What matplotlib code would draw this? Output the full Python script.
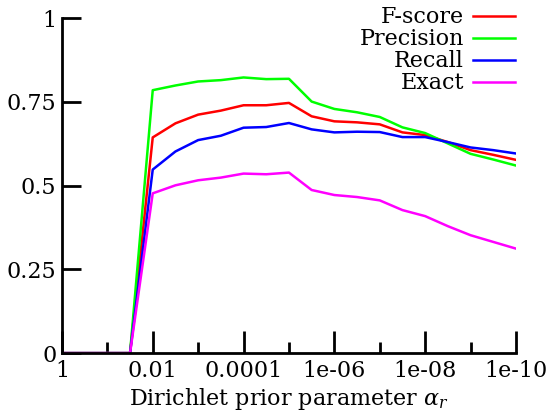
import numpy as np
import matplotlib
matplotlib.use('Agg')
import matplotlib.pyplot as plt
from matplotlib.ticker import FixedLocator, NullFormatter

plt.rcParams['font.family'] = ['DejaVu Serif']
plt.rcParams['mathtext.fontset'] = 'dejavuserif'

# alpha_r values (half-decade steps), first ones give zero
alpha = [1, 10**-0.5, 0.1, 10**-1.5, 1e-2, 10**-2.5, 1e-3, 10**-3.5, 1e-4, 10**-4.5, 1e-5,
         10**-5.5, 1e-6, 10**-6.5, 1e-7, 10**-7.5, 1e-8, 10**-8.5, 1e-9, 10**-9.5, 1e-10]

fscore = [0, 0, 0, 0, 0.644, 0.686, 0.712, 0.724, 0.740, 0.740, 0.747, 0.707, 0.692, 0.689,
          0.683, 0.659, 0.651, 0.630, 0.606, 0.592, 0.577]
precision = [0, 0, 0, 0, 0.785, 0.799, 0.811, 0.815, 0.823, 0.818, 0.819, 0.751, 0.729, 0.719,
             0.705, 0.674, 0.657, 0.626, 0.595, 0.578, 0.560]
recall = [0, 0, 0, 0, 0.548, 0.602, 0.636, 0.649, 0.673, 0.675, 0.687, 0.668, 0.659, 0.661,
          0.660, 0.645, 0.645, 0.630, 0.614, 0.606, 0.596]
exact = [0, 0, 0, 0, 0.477, 0.501, 0.516, 0.524, 0.536, 0.534, 0.539, 0.487, 0.472, 0.466,
         0.456, 0.427, 0.409, 0.379, 0.352, 0.332, 0.312]

major_ticks = [1, 1e-2, 1e-4, 1e-6, 1e-8, 1e-10]
major_labels = ['1', '0.01', '0.0001', '1e-06', '1e-08', '1e-10']
minor_ticks = [1e-1, 1e-3, 1e-5, 1e-7, 1e-9]
y_ticks = [0, 0.25, 0.5, 0.75, 1]
y_labels = ['0', '0.25', '0.5', '0.75', '1']

fig = plt.figure(figsize=(5.53, 4.13), dpi=100)
ax = fig.add_axes([0.112, 0.145, 0.821, 0.811])

ax.plot(alpha, fscore, color='#ff0000', lw=1.8, label='F-score')
ax.plot(alpha, precision, color='#00ff00', lw=1.8, label='Precision')
ax.plot(alpha, recall, color='#0000ff', lw=1.8, label='Recall')
ax.plot(alpha, exact, color='#ff00ff', lw=1.8, label='Exact')

ax.set_xscale('log')
ax.set_xlim(1, 1e-10)
ax.set_ylim(0, 1)
ax.xaxis.set_major_locator(FixedLocator(major_ticks))
ax.xaxis.set_minor_locator(FixedLocator(minor_ticks))
ax.xaxis.set_minor_formatter(NullFormatter())
ax.set_xticklabels(major_labels)
ax.set_yticks(y_ticks)
ax.set_yticklabels(y_labels)

for s in ['top', 'right']:
    ax.spines[s].set_visible(False)
for s in ['left', 'bottom']:
    ax.spines[s].set_linewidth(2)

ax.tick_params(axis='x', which='major', direction='in', length=16, width=2, labelsize=16, pad=5)
ax.tick_params(axis='x', which='minor', direction='in', length=8, width=2)
ax.tick_params(axis='y', direction='in', length=14, width=2, labelsize=16, pad=4)

ax.set_xlabel(r'Dirichlet prior parameter $\alpha_r$', fontsize=16, labelpad=3)

leg = ax.legend(loc='upper right', bbox_to_anchor=(0.998, 1.035), frameon=False, markerfirst=False,
                fontsize=16, handlelength=1.9, labelspacing=0.0, handletextpad=0.4, borderpad=0,
                borderaxespad=0)

fig.savefig('out.png', dpi=100)
